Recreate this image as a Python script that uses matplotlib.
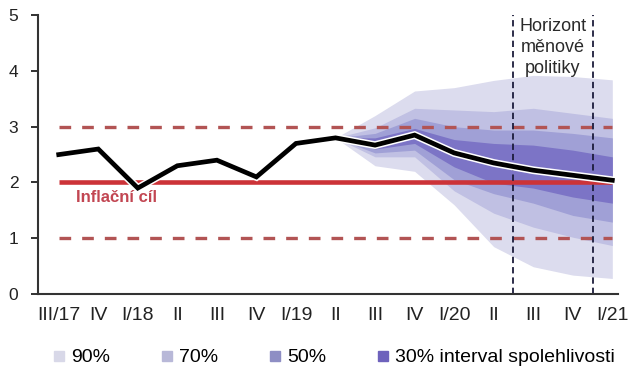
import matplotlib
matplotlib.use("Agg")
import matplotlib.pyplot as plt
import matplotlib.patheffects as pe
from matplotlib.lines import Line2D

plt.rcParams['font.family'] = ['Liberation Sans', 'DejaVu Sans']

# Quarter labels
labels = ["III/17", "IV", "I/18", "II", "III", "IV", "I/19", "II",
          "III", "IV", "I/20", "II", "III", "IV", "I/21"]

# Inflation (actual + forecast)
inflation = [2.5, 2.6, 1.9, 2.3, 2.4, 2.1, 2.7, 2.8,
             2.67, 2.85, 2.53, 2.35, 2.22, 2.13, 2.04]

# Fan chart bands (from II/19 to I/21)
fan_start = 7
upper90 = [2.8, 3.2, 3.64, 3.7, 3.83, 3.92, 3.9, 3.84]
upper70 = [2.8, 2.98, 3.33, 3.3, 3.27, 3.33, 3.24, 3.15]
upper50 = [2.8, 2.88, 3.15, 3.0, 2.94, 2.94, 2.88, 2.8]
upper30 = [2.8, 2.8, 2.97, 2.77, 2.7, 2.67, 2.58, 2.46]
lower30 = [2.8, 2.6, 2.7, 2.28, 1.99, 1.9, 1.74, 1.63]
lower50 = [2.8, 2.53, 2.58, 2.05, 1.8, 1.63, 1.41, 1.29]
lower70 = [2.8, 2.46, 2.46, 1.85, 1.45, 1.2, 1.02, 0.87]
lower90 = [2.8, 2.3, 2.2, 1.6, 0.85, 0.49, 0.34, 0.28]

target = 2.0
tolerance = [1.0, 3.0]
horizon = [11.5, 13.5]

band_colors = ["#dcdcee", "#c0c0e3", "#a0a0d6", "#7c74c6"]
legend_colors = ["#d8d8e8", "#b8b8d8", "#8e8ec4", "#6e62bc"]
legend_labels = ["90%", "70%", "50%", "30% interval spolehlivosti"]

fig = plt.figure(figsize=(6.4, 3.78), dpi=100)
ax = fig.add_axes([0.059, 0.222, 0.907, 0.738])

x = list(range(len(labels)))
xf = x[fan_start:]

ax.fill_between(xf, lower90, upper90, color=band_colors[0], lw=0)
ax.fill_between(xf, lower70, upper70, color=band_colors[1], lw=0)
ax.fill_between(xf, lower50, upper50, color=band_colors[2], lw=0)
ax.fill_between(xf, lower30, upper30, color=band_colors[3], lw=0)

# Target and tolerance band
ax.plot([x[0], x[-1]], [target, target], color="#cc3338", lw=3.3,
        solid_capstyle="butt")
for t in tolerance:
    ax.plot([x[0], x[-1]], [t, t], color="#b25454", lw=2.4,
            dashes=(3.5, 3.3))

# Monetary policy horizon
for h in horizon:
    ax.axvline(h, color="#1c1c3c", lw=1.3, dashes=(3.5, 2.2))

ax.plot(x, inflation, color="black", lw=3.4, solid_joinstyle="miter",
        path_effects=[pe.Stroke(linewidth=5.6, foreground="white"), pe.Normal()])

ax.text(0.43, 1.74, "Inflační cíl", color="#c24652", fontsize=12,
        fontweight="bold", ha="left", va="center")
ax.text(12.5, 4.95, "Horizont\nměnové\npolitiky", color="#2a2a2a",
        fontsize=13, ha="center", va="top", linespacing=1.32)

ax.set_xlim(-0.53, 14.15)
ax.set_ylim(0, 5)
ax.set_xticks(x)
ax.set_xticklabels(labels)
ax.set_yticks(range(6))
ax.tick_params(axis="x", length=0, pad=9, labelsize=14, colors="#222222")
ax.tick_params(axis="y", length=5, width=1.3, pad=9, labelsize=12.5,
               colors="#222222")
for s in ["top", "right"]:
    ax.spines[s].set_visible(False)
for s in ["left", "bottom"]:
    ax.spines[s].set_linewidth(1.5)
    ax.spines[s].set_color("#333333")

handles = [Line2D([], [], ls="none", marker="s", markersize=7.5,
                  markerfacecolor=c, markeredgecolor=c) for c in legend_colors]
fig.legend(handles, legend_labels, loc="center", bbox_to_anchor=(0.522, 0.054),
           ncol=4, frameon=False, fontsize=14, handlelength=0.6,
           handletextpad=0.3, columnspacing=2.65, borderaxespad=0)

fig.savefig("out.png", dpi=100)
